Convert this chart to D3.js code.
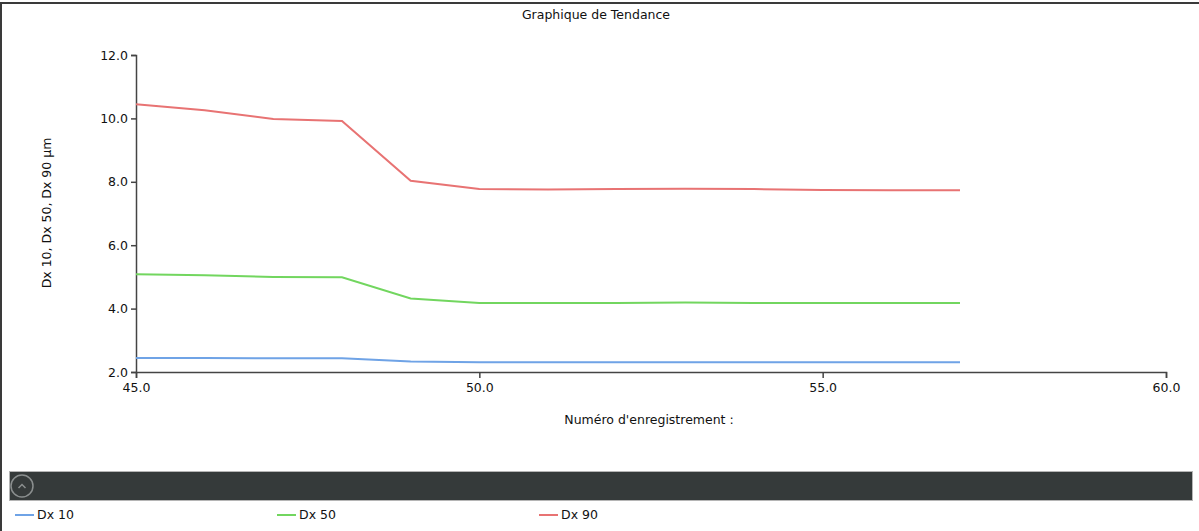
<!DOCTYPE html>
<html>
<head>
<meta charset="utf-8">
<script src="https://cdn.jsdelivr.net/npm/d3@7"></script>
<style>
  body { margin: 0; background: #fff; }
  svg { display: block; font-family: "DejaVu Sans", Verdana, sans-serif; }
</style>
</head>
<body>
<div id="chart"></div>
<script>
// Record numbers and measured diameters (µm)
const records = [45, 46, 47, 48, 49, 50, 51, 52, 53, 54, 55, 56, 57];
const dx10 = [2.44, 2.44, 2.43, 2.43, 2.33, 2.31, 2.31, 2.31, 2.31, 2.31, 2.31, 2.31, 2.31];
const dx50 = [5.08, 5.05, 5.00, 4.99, 4.32, 4.18, 4.18, 4.18, 4.19, 4.18, 4.18, 4.18, 4.18];
const dx90 = [10.45, 10.26, 9.98, 9.92, 8.03, 7.77, 7.76, 7.77, 7.78, 7.77, 7.74, 7.73, 7.73];
const seriesNames = ["Dx 10", "Dx 50", "Dx 90"];
const seriesColors = ["#6fa3e6", "#72d65f", "#e87373"];
const xTicks = [45, 50, 55, 60];
const yTicks = [2, 4, 6, 8, 10, 12];

const W = 1199, H = 531;
const margin = { top: 55, right: 33, bottom: 159, left: 136 },
    width = W - margin.left - margin.right,
    height = H - margin.top - margin.bottom;

const svg = d3.select("#chart").append("svg")
    .attr("width", W)
    .attr("height", H);

// outer frame
svg.append("line").attr("x1", 0).attr("x2", W).attr("y1", 3).attr("y2", 3)
    .attr("stroke", "#3a3a3a").attr("stroke-width", 2);
svg.append("line").attr("x1", 1).attr("x2", 1).attr("y1", 3).attr("y2", H)
    .attr("stroke", "#3a3a3a").attr("stroke-width", 2);

// title
svg.append("text")
    .attr("x", 596).attr("y", 19)
    .attr("text-anchor", "middle")
    .style("font-size", "12.5px")
    .attr("fill", "#111")
    .text("Graphique de Tendance");

const g = svg.append("g").attr("transform", `translate(${margin.left},${margin.top})`);

const x = d3.scaleLinear().domain([45, 60]).range([0, width]);
const y = d3.scaleLinear().domain([2, 12]).range([height, 0]);

const xAxis = g.append("g")
    .attr("transform", `translate(0,${height})`)
    .call(d3.axisBottom(x).tickValues(xTicks).tickFormat(d3.format(".1f")).tickSizeOuter(0).tickSize(6));
const yAxis = g.append("g")
    .call(d3.axisLeft(y).tickValues(yTicks).tickFormat(d3.format(".1f")).tickSizeOuter(0).tickSize(5));

[xAxis, yAxis].forEach(a => {
    a.select(".domain").attr("stroke", "#444").attr("stroke-width", 1.5);
    a.selectAll(".tick line").attr("stroke", "#444").attr("stroke-width", 1.5);
    a.selectAll(".tick text").attr("fill", "#111")
        .style("font-size", "12.5px").style("font-family", "DejaVu Sans, Verdana, sans-serif");
});
xAxis.selectAll(".tick text").attr("dy", "0.85em");

// axis titles
svg.append("text")
    .attr("x", 649).attr("y", 424)
    .attr("text-anchor", "middle")
    .style("font-size", "12.5px")
    .attr("fill", "#111")
    .text("Numéro d'enregistrement :");

svg.append("text")
    .attr("transform", "translate(51,213) rotate(-90)")
    .attr("text-anchor", "middle")
    .style("font-size", "12.5px")
    .attr("fill", "#111")
    .text("Dx 10, Dx 50, Dx 90 µm");

// lines
const allSeries = [dx10, dx50, dx90];
const line = d3.line()
    .x((d, i) => x(records[i]))
    .y(d => y(d));

allSeries.forEach((vals, k) => {
    g.append("path")
        .datum(vals)
        .attr("fill", "none")
        .attr("stroke", seriesColors[k])
        .attr("stroke-width", 2)
        .attr("d", line);
});

// dark collapse bar
svg.append("rect")
    .attr("x", 9.5).attr("y", 471.5)
    .attr("width", 1183).attr("height", 29)
    .attr("fill", "#353a3a")
    .attr("stroke", "#b5b5b5").attr("stroke-width", 1);
svg.append("circle")
    .attr("cx", 22).attr("cy", 486).attr("r", 11)
    .attr("fill", "none").attr("stroke", "#8a8e8e").attr("stroke-width", 1.5);
svg.append("path")
    .attr("d", "M18.5,488 L22,484.5 L25.5,488")
    .attr("fill", "none").attr("stroke", "#8a8e8e").attr("stroke-width", 1.5);

// legend
const legend = svg.append("g").attr("transform", "translate(15,515)");
seriesNames.forEach((name, i) => {
    const row = legend.append("g").attr("transform", `translate(${i * 262},0)`);
    row.append("line")
        .attr("x1", 0).attr("x2", 19).attr("y1", 0).attr("y2", 0)
        .attr("stroke", seriesColors[i]).attr("stroke-width", 2);
    row.append("text")
        .attr("x", 22).attr("y", 0)
        .attr("dy", "0.35em")
        .style("font-size", "12.5px")
        .attr("fill", "#111")
        .text(name);
});
</script>
</body>
</html>
